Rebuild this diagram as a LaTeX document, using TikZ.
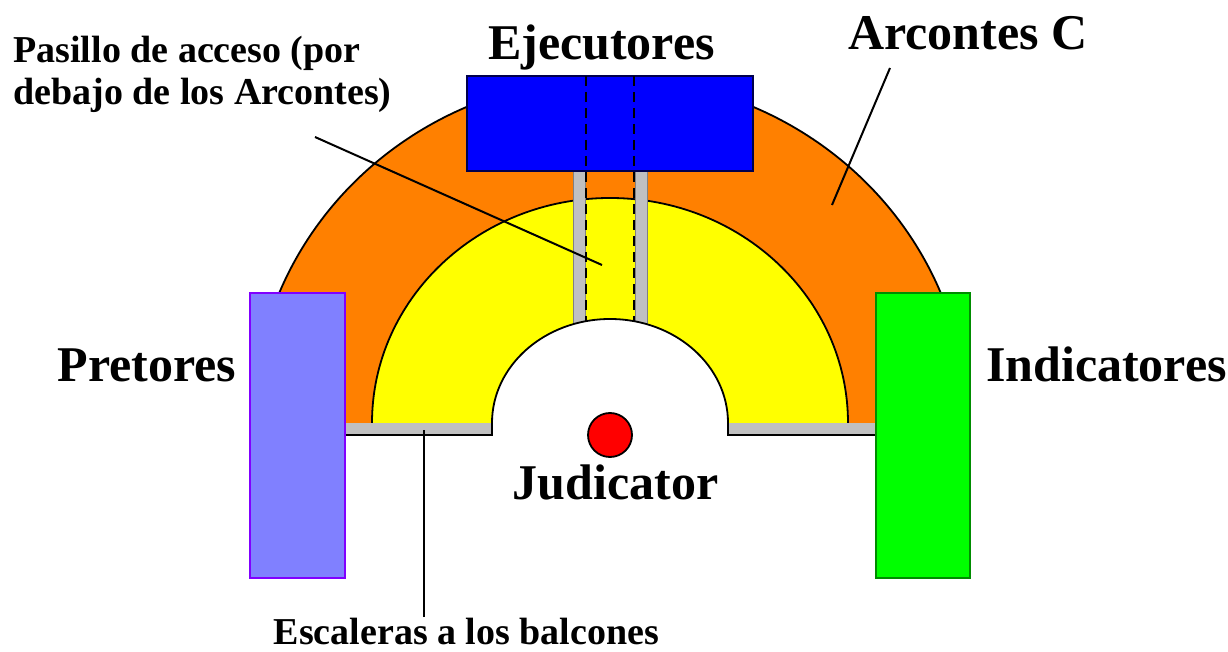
\documentclass[tikz,border=0pt]{standalone}
\usepackage{fontspec}
\setmainfont{Liberation Serif}
\usetikzlibrary{positioning}
\definecolor{ejecblue}{RGB}{0,0,255}
\definecolor{arcorange}{RGB}{255,128,0}
\definecolor{pasyellow}{RGB}{255,255,0}
\definecolor{pretfill}{RGB}{128,128,255}
\definecolor{pretline}{RGB}{128,0,255}
\definecolor{indgreen}{RGB}{0,255,0}
\definecolor{indline}{RGB}{0,140,0}
\definecolor{wallgray}{RGB}{192,192,192}
\tikzset{
  biglabel/.style={font=\fontsize{25}{30}\selectfont\bfseries, inner sep=0pt, anchor=base},
  smalllabel/.style={font=\fontsize{19}{21}\selectfont\bfseries, inner sep=0pt},
  ringline/.style={draw=black, line width=0.9pt},
  leader/.style={draw=black, line width=1pt},
  wall/.style={fill=wallgray, draw=gray, line width=0.5pt},
  corridor/.style={draw=black, line width=1pt, dash pattern=on 5pt off 3pt},
}

\begin{document}
\begin{tikzpicture}[x=0.5pt,y=-0.5pt]
  \useasboundingbox (0,0) rectangle (1228,652);
  % rings
  \fill[arcorange] (253,423) arc[start angle=180,end angle=360,x radius=357,y radius=345]
    -- (848,423) arc[start angle=360,end angle=180,x radius=238,y radius=225] -- cycle;
  \fill[pasyellow] (372,423) arc[start angle=180,end angle=360,x radius=238,y radius=225]
    -- (728,423) arc[start angle=360,end angle=180,x radius=118,y radius=104] -- cycle;
  \draw[ringline] (253,423) arc[start angle=180,end angle=360,x radius=357,y radius=345];
  \draw[ringline] (372,423) arc[start angle=180,end angle=360,x radius=238,y radius=225];
  % walls of the corridor
  \filldraw[wall] (573,171) rectangle (585,335);
  \filldraw[wall] (635,171) rectangle (647,335);
  \fill[white] (492,423) arc[start angle=180,end angle=360,x radius=118,y radius=104] -- cycle;
  \draw[ringline] (492,423) arc[start angle=180,end angle=360,x radius=118,y radius=104];
  % stairs
  \fill[wallgray] (345,423) rectangle (492,435);
  \fill[wallgray] (728,423) rectangle (876,435);
  \draw[ringline] (345,435) -- (492,435) -- (492,423);
  \draw[ringline] (876,435) -- (728,435) -- (728,423);
  % boxes
  \filldraw[fill=ejecblue, draw=black!70!blue, line width=0.6pt] (467,76) rectangle (753,171);
  \draw[corridor] (586,76) -- (586,321);
  \draw[corridor] (634,76) -- (634,321);
  \filldraw[fill=pretfill, draw=pretline, line width=1pt] (250,293) rectangle (345,578);
  \filldraw[fill=indgreen, draw=indline, line width=0.8pt] (876,293) rectangle (970,578);
  \filldraw[fill=red, draw=black, line width=0.9pt] (610,435) circle[radius=22];

  % labels
  \node[biglabel] (ejecutores) at (601.5,60) {Ejecutores};
  \node[biglabel] (arcontes) at (968,50) {Arcontes C};
  \node[biglabel] (pretores) at (147,382) {Pretores};
  \node[biglabel] (indicatores) at (1106.5,382) {Indicatores};
  \node[biglabel] (judicator) at (615.5,500) {Judicator};
  \node[smalllabel, anchor=base west, align=left] (pasillo) at (13,105) {Pasillo de acceso (por\\debajo de los Arcontes)};
  \node[smalllabel, anchor=base] (escaleras) at (466.5,645) {Escaleras a los balcones};

  % leaders
  \coordinate (arcTip) at (890,68);
  \coordinate (arcEnd) at (832,205);
  \coordinate (pasTip) at (315,137);
  \coordinate (pasEnd) at (602,265);
  \coordinate (escTip) at (424,617);
  \coordinate (escEnd) at (424,430);
  \draw[leader] (arcTip) -- (arcEnd);
  \draw[leader] (pasTip) -- (pasEnd);
  \draw[leader] (escTip) -- (escEnd);
\end{tikzpicture}
\end{document}
